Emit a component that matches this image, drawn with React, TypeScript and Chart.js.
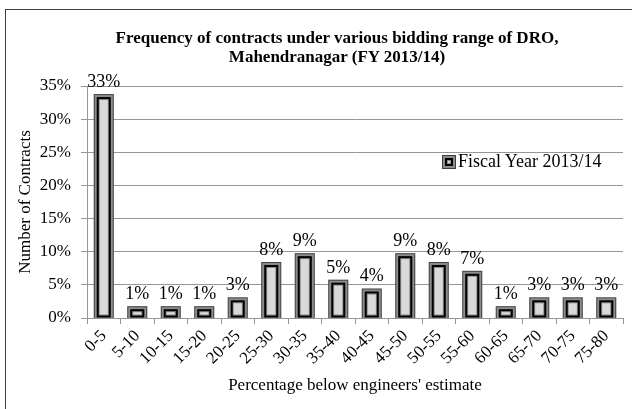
import React, { useEffect, useRef } from 'react';
import { Chart, registerables } from 'chart.js';

Chart.register(...registerables);

const categories = ['0-5', '5-10', '10-15', '15-20', '20-25', '25-30', '30-35', '35-40', '40-45', '45-50', '50-55', '55-60', '60-65', '65-70', '70-75', '75-80'];
const shareOfContracts = [33.33, 1.33, 1.33, 1.33, 2.67, 8.0, 9.33, 5.33, 4.0, 9.33, 8.0, 6.67, 1.33, 2.67, 2.67, 2.67];
const seriesLabel = 'Fiscal Year 2013/14';
const titleLines = ['Frequency of contracts under various bidding range of DRO,', 'Mahendranagar (FY 2013/14)'];
const xTitle = "Percentage below engineers' estimate";
const yTitle = 'Number of Contracts';
const yMax = 35;
const yStep = 5;

const FONT = "'Liberation Serif', 'Times New Roman', serif";
const GRID = '#969696';
const LAYERS: [number, string][] = [
  [0, '#404040'],
  [1, '#8c8c8c'],
  [3, '#000000'],
  [5, '#8c8c8c'],
  [6, '#d9d9d9'],
];

const patternBars = {
  id: 'patternBars',
  afterDatasetsDraw(chart: any) {
    const { ctx, chartArea } = chart;
    const meta = chart.getDatasetMeta(0);
    const data = chart.data.datasets[0].data as number[];
    ctx.save();
    ctx.beginPath();
    ctx.rect(chartArea.left, chartArea.top - 40, chartArea.right - chartArea.left, chartArea.bottom - chartArea.top + 40);
    ctx.clip();
    meta.data.forEach((el: any) => {
      const { x, y, base, width } = el.getProps(['x', 'y', 'base', 'width'], true);
      const half = 3;
      const L = x - width / 2 - half;
      const R = x + width / 2 + half;
      const T = y - half;
      const B = base + half;
      LAYERS.forEach(([inset, color]) => {
        const w = R - L - 2 * inset;
        const h = B - T - 2 * inset;
        if (w > 0 && h > 0) {
          ctx.fillStyle = color;
          ctx.fillRect(L + inset, T + inset, w, h);
        }
      });
    });
    ctx.restore();
    ctx.save();
    ctx.font = `18px ${FONT}`;
    ctx.fillStyle = '#000';
    ctx.textAlign = 'center';
    ctx.textBaseline = 'alphabetic';
    meta.data.forEach((el: any, i: number) => {
      const { x, y } = el.getProps(['x', 'y'], true);
      ctx.fillText(Math.round(data[i]) + '%', x, y - 3 - 7);
    });
    ctx.restore();
  },
};

export default function App() {
  const ref = useRef<HTMLCanvasElement | null>(null);
  useEffect(() => {
    if (!ref.current) return;
    const chart = new Chart(ref.current, {
      type: 'bar',
      data: {
        labels: categories,
        datasets: [
          {
            label: seriesLabel,
            data: shareOfContracts,
            backgroundColor: 'rgba(0,0,0,0)',
            borderWidth: 0,
            categoryPercentage: 1,
            barPercentage: 0.42,
          },
        ],
      },
      options: {
        animation: false,
        responsive: false,
        devicePixelRatio: 1,
        layout: { padding: { top: 86, right: 9, left: 0, bottom: 0 } },
        plugins: {
          legend: { display: false },
          title: { display: false },
          tooltip: { enabled: false },
        },
        scales: {
          x: {
            afterFit: (s: any) => {
              s.height = 91;
            },
            grid: { drawOnChartArea: false, drawTicks: true, tickLength: 6, color: GRID, offset: true },
            border: { color: GRID },
            ticks: {
              color: '#000',
              font: { family: FONT, size: 17 },
              minRotation: 45,
              maxRotation: 45,
              padding: 2,
              autoSkip: false,
            },
            title: {
              display: true,
              text: xTitle,
              color: '#000',
              font: { family: FONT, size: 17 },
              padding: { top: 0, bottom: 13 },
            },
          },
          y: {
            min: 0,
            max: yMax,
            afterFit: (s: any) => {
              s.width = 87;
            },
            grid: { color: GRID, tickLength: 6 },
            border: { color: GRID },
            ticks: {
              stepSize: yStep,
              color: '#000',
              font: { family: FONT, size: 17 },
              padding: 10,
              callback: (v: any) => v + '%',
            },
            title: {
              display: true,
              text: yTitle,
              color: '#000',
              font: { family: FONT, size: 17 },
              padding: { top: 15, bottom: 0 },
            },
          },
        },
      },
      plugins: [patternBars],
    });
    return () => chart.destroy();
  }, []);

  return (
    <div
      style={{
        position: 'fixed',
        left: 0,
        top: 0,
        width: 632,
        height: 409,
        overflow: 'hidden',
        background: '#fff',
      }}
    >
      <div
        style={{
          position: 'absolute',
          left: 5,
          top: 9,
          width: 700,
          height: 500,
          border: '1px solid #404040',
        }}
      />
      <canvas ref={ref} width={632} height={409} style={{ position: 'absolute', left: 0, top: 0, width: 632, height: 409 }} />
      <div
        style={{
          position: 'absolute',
          left: 0,
          top: 28,
          width: 674,
          textAlign: 'center',
          fontFamily: FONT,
          fontWeight: 'bold',
          fontSize: 17,
          lineHeight: '19px',
          color: '#000',
        }}
      >
        {titleLines.map((t) => (
          <div key={t}>{t}</div>
        ))}
      </div>
      <div style={{ position: 'absolute', left: 442, top: 155, width: 14, height: 14, boxSizing: 'border-box', border: '1px solid #404040', background: '#8c8c8c', padding: 2 }}>
        <div style={{ width: 8, height: 8, boxSizing: 'border-box', border: '2px solid #000', background: '#8c8c8c', padding: 1 }}>
          <div style={{ width: 2, height: 2, background: '#d9d9d9' }} />
        </div>
      </div>
      <div
        style={{
          position: 'absolute',
          left: 458,
          top: 151,
          fontFamily: FONT,
          fontSize: 18,
          lineHeight: '20px',
          color: '#000',
          whiteSpace: 'nowrap',
        }}
      >
        {seriesLabel}
      </div>
    </div>
  );
}
